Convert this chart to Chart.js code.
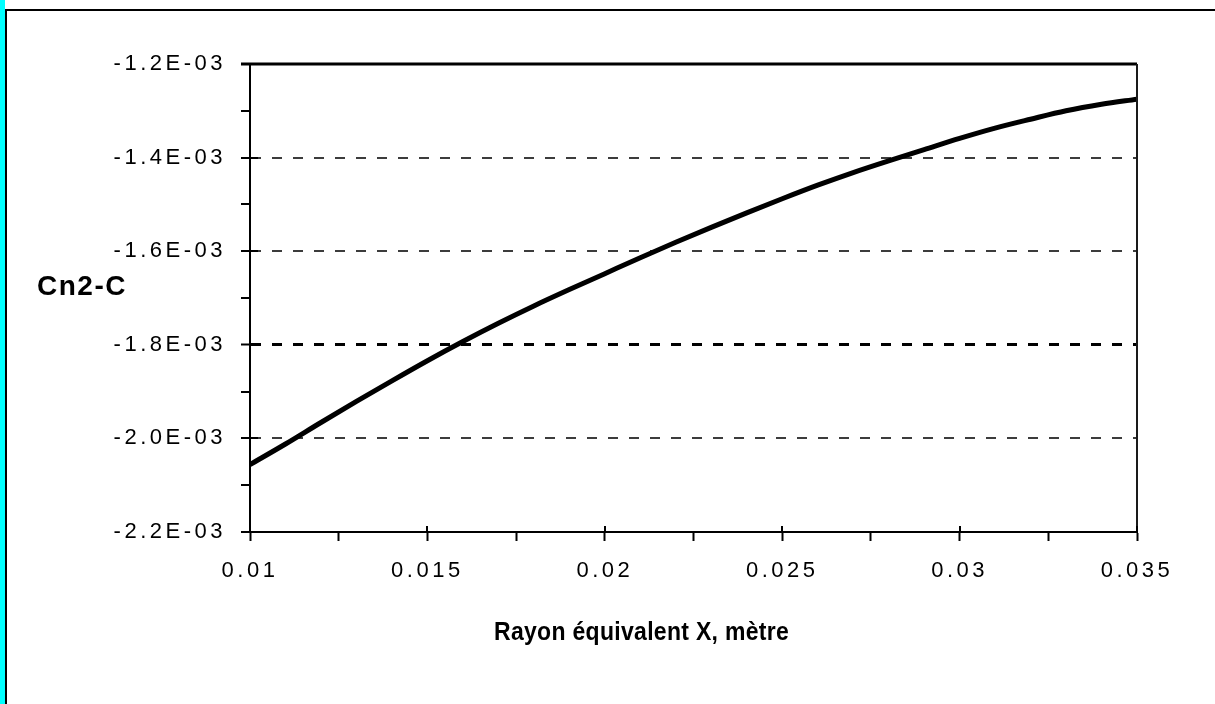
<!DOCTYPE html>
<html>
<head>
<meta charset="utf-8">
<script src="https://cdn.jsdelivr.net/npm/chart.js@4.4.0/dist/chart.umd.min.js"></script>
<style>
  html, body { margin: 0; padding: 0; background: #fff; }
  #wrap { position: relative; width: 1215px; height: 704px; overflow: hidden; }
  #cyan { position: absolute; left: 0; top: 0; width: 5px; height: 704px; background: #00ffff; }
  #edgeL { position: absolute; left: 5px; top: 9px; width: 2px; height: 695px; background: #000; }
  #edgeT { position: absolute; left: 5px; top: 9px; width: 1210px; height: 2px; background: #000; }
  canvas { position: absolute; left: 0; top: 0; }
  .ttl { position: absolute; font-family: "Liberation Sans", Arial, sans-serif; font-weight: bold; color: #000; white-space: nowrap; }
  #ytitle { left: 37px; top: 272px; font-size: 28px; line-height: 28px; letter-spacing: 1.5px; }
  #xtitle { left: 494px; top: 619px; font-size: 23px; line-height: 23px; letter-spacing: 0.3px; transform: scaleY(1.1); transform-origin: 0 0; }
</style>
</head>
<body>
<div id="wrap">
  <div id="cyan"></div>
  <div id="edgeL"></div>
  <div id="edgeT"></div>
  <canvas id="chart" width="1215" height="704"></canvas>
  <div class="ttl" id="ytitle">Cn2-C</div>
  <div class="ttl" id="xtitle">Rayon équivalent X, mètre</div>
</div>
<script>
// --- data ---
const xValues = [0.010, 0.011, 0.012, 0.013, 0.014, 0.015, 0.016, 0.017, 0.018, 0.019,
                 0.020, 0.021, 0.022, 0.023, 0.024, 0.025, 0.026, 0.027, 0.028, 0.029,
                 0.030, 0.031, 0.032, 0.033, 0.034, 0.035];
const cnValues = [-2.056e-3, -2.012e-3, -1.966e-3, -1.921e-3, -1.877e-3, -1.834e-3, -1.793e-3,
                  -1.754e-3, -1.717e-3, -1.682e-3, -1.648e-3, -1.614e-3, -1.581e-3, -1.549e-3,
                  -1.518e-3, -1.488e-3, -1.459e-3, -1.432e-3, -1.407e-3, -1.383e-3, -1.359e-3,
                  -1.337e-3, -1.318e-3, -1.300e-3, -1.286e-3, -1.275e-3];

// axis ranges / ticks
const X_MIN = 0.01, X_MAX = 0.035, X_MINOR = 0.0025;
const Y_MIN = -2.2e-3, Y_MAX = -1.2e-3, Y_MINOR = 0.1e-3;
const TICK_FONT = { family: '"Liberation Sans", Arial, sans-serif', size: 22 };

const xIdx = v => Math.round((v - X_MIN) / X_MINOR);
const yIdx = v => Math.round((v - Y_MIN) / Y_MINOR);

function fmtX(v) {
  if (xIdx(v) % 2 !== 0) return '';
  return String(+v.toFixed(3));
}
function fmtY(v) {
  if (yIdx(v) % 2 !== 0) return '';
  return (v * 1000).toFixed(1) + 'E-03';
}

// grid style for the y axis: dashed lines on inner major ticks only
function yGridColor(v) {
  const i = yIdx(v);
  if (i % 2 !== 0 || i === 0 || i === 10) return 'rgba(0,0,0,0)';
  return i === 4 ? '#000' : '#3c3c3c';
}
function yGridWidth(v) {
  return yIdx(v) === 4 ? 3 : 2;
}

// inner half of major ticks, plus top / right frame of the plot
const axisMarks = {
  id: 'axisMarks',
  beforeDraw(chart) { chart.ctx.letterSpacing = '3.5px'; },
  afterDraw(chart) {
    const { ctx, chartArea: a, scales: { x, y } } = chart;
    ctx.save();
    ctx.letterSpacing = '0px';
    ctx.strokeStyle = '#000';
    ctx.lineWidth = 3;
    ctx.beginPath();
    ctx.moveTo(a.left - 9, a.top);
    ctx.lineTo(a.right, a.top);
    ctx.stroke();
    ctx.lineWidth = 2;
    ctx.strokeStyle = '#1a1a1a';
    ctx.beginPath();
    ctx.moveTo(a.right, a.top);
    ctx.lineTo(a.right, a.bottom);
    ctx.stroke();

    ctx.strokeStyle = '#000';
    ctx.lineWidth = 2;
    y.ticks.forEach(t => {
      if (yIdx(t.value) % 2 !== 0) return;
      const py = Math.round(y.getPixelForValue(t.value));
      ctx.beginPath(); ctx.moveTo(a.left, py); ctx.lineTo(a.left + 8, py); ctx.stroke();
    });
    x.ticks.forEach(t => {
      if (xIdx(t.value) % 2 !== 0) return;
      const px = Math.round(x.getPixelForValue(t.value));
      ctx.beginPath(); ctx.moveTo(px, a.bottom); ctx.lineTo(px, a.bottom - 6); ctx.stroke();
    });
    ctx.restore();
  }
};

const points = xValues.map((xv, i) => ({ x: xv, y: cnValues[i] }));

new Chart(document.getElementById('chart').getContext('2d'), {
  type: 'line',
  data: {
    datasets: [{
      data: points,
      borderColor: '#000',
      borderWidth: 5,
      pointRadius: 0,
      fill: false,
      cubicInterpolationMode: 'monotone'
    }]
  },
  options: {
    responsive: false,
    animation: false,
    layout: { padding: { top: 64, right: 78, left: 0, bottom: 0 } },
    plugins: { legend: { display: false }, tooltip: { enabled: false } },
    scales: {
      x: {
        type: 'linear',
        min: X_MIN, max: X_MAX,
        afterFit(s) { s.height = 172; },
        ticks: { stepSize: X_MINOR, autoSkip: false, maxRotation: 0, padding: 17,
                 color: '#000', font: TICK_FONT, callback: fmtX },
        grid: { drawOnChartArea: false, tickLength: 9, tickColor: '#000', tickWidth: 2 },
        border: { color: '#000', width: 2 }
      },
      y: {
        min: Y_MIN, max: Y_MAX,
        afterFit(s) { s.width = 250; },
        ticks: { stepSize: Y_MINOR, autoSkip: false, padding: 15,
                 color: '#000', font: TICK_FONT, callback: fmtY },
        grid: {
          color: c => yGridColor(c.tick.value),
          lineWidth: c => yGridWidth(c.tick.value),
          tickLength: 9, tickColor: '#000', tickWidth: 2
        },
        border: { color: '#000', width: 2, dash: [10, 11] }
      }
    }
  },
  plugins: [axisMarks]
});
</script>
</body>
</html>
